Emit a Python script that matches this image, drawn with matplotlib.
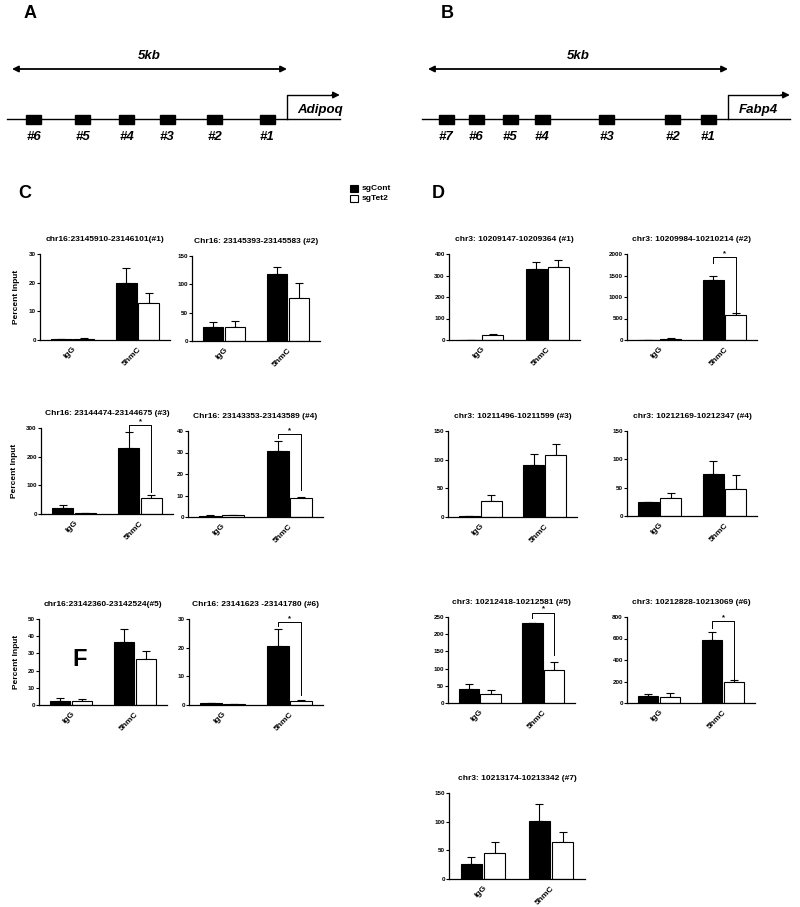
import numpy as np
import matplotlib.pyplot as plt
from matplotlib.patches import Rectangle

plt.rcParams["font.family"] = ["Liberation Sans", "DejaVu Sans"]
plt.rcParams["font.weight"] = "bold"

W, H = 800, 907  # 圖面像素

# ── 資料區 ────────────────────────────────────────────
groups = ["IgG", "5hmC"]

# A: Adipoq 位點 (距 TSS, kb)
adipoq_sites = [-0.36, -1.31, -2.18, -2.91, -3.71, -4.6]
# B: Fabp4 位點 (距 TSS, kb)
fabp4_sites = [-0.33, -0.92, -2.02, -3.1, -3.63, -4.2, -4.7]

# C: Adipoq ChIP (#1..#6)
c_titles = ["chr16:23145910-23146101(#1)", "Chr16: 23145393-23145583 (#2)",
            "Chr16: 23144474-23144675 (#3)", "Chr16: 23143353-23143589 (#4)",
            "chr16:23142360-23142524(#5)", "Chr16: 23141623 -23141780 (#6)"]
c_ymax = [30, 150, 300, 40, 50, 30]
c_ystep = [10, 50, 100, 10, 10, 10]
c_cont = [[0.3, 20], [25, 118], [22, 230], [0.6, 30.5], [2.3, 36.5], [0.6, 20.5]]
c_cont_err = [[0.1, 5], [8, 12], [8, 55], [0.1, 5], [1.5, 7.5], [0.1, 6]]
c_tet2 = [[0.5, 13], [25, 76], [4, 55], [0.7, 9], [2.2, 26.5], [0.4, 1.5]]
c_tet2_err = [[0.3, 3.5], [10, 27], [1, 10], [0.1, 0.3], [1.3, 5], [0.1, 0.4]]
c_sig = [None, None, (309, 290, 78), (38.4, 36.6, 12.5), None, (28.8, 27.7, 3.5)]

# D: Fabp4 ChIP (#1..#7)
d_titles = ["chr3: 10209147-10209364 (#1)", "chr3: 10209984-10210214 (#2)",
            "chr3: 10211496-10211599 (#3)", "chr3: 10212169-10212347 (#4)",
            "chr3: 10212418-10212581 (#5)", "chr3: 10212828-10213069 (#6)",
            "chr3: 10213174-10213342 (#7)"]
d_ymax = [400, 2000, 150, 150, 250, 800, 150]
d_ystep = [100, 500, 50, 50, 50, 200, 50]
d_cont = [[0, 330], [0, 1400], [2, 91], [25, 75], [42, 232], [65, 585], [27, 102]]
d_cont_err = [[0, 32], [0, 100], [0.5, 19], [0.5, 22], [13, 2], [15, 80], [11, 28]]
d_tet2 = [[24, 338], [30, 570], [28, 109], [32, 48], [27, 95], [60, 195], [46, 64]]
d_tet2_err = [[3, 34], [5, 60], [10, 19], [9, 24], [11, 25], [30, 15], [18, 18]]
d_sig = [None, (1920, 1800, 660), None, None, (263, 247, 140), (765, 700, 225), None]

# 各小圖的像素框 (left, top, right, bottom)
C_BOXES = [(40, 254, 170, 340), (192, 256, 320, 341),
           (41, 428, 173, 514), (188, 431, 323, 517),
           (39, 619, 167, 705), (189, 619, 323, 705)]
D_BOXES = [(449, 254, 580, 340), (627, 254, 757, 340),
           (448, 431, 577, 517), (627, 431, 757, 516),
           (448, 617, 575, 703), (627, 617, 755, 703),
           (449, 793, 585, 879)]


def px_axes(fig, left, top, right, bottom):
    return fig.add_axes([left / W, 1 - bottom / H, (right - left) / W, (bottom - top) / H])


def ftext(fig, x, y, s, **kw):
    fig.text(x / W, 1 - y / H, s, **kw)


def draw_locus(ax, sites, tss_px, px_per_kb, ax_left_px, gene, arrow_end):
    ax.set_xlim((ax_left_px - tss_px) / px_per_kb, (ax_left_px + 400 - tss_px) / px_per_kb)
    ax.set_ylim(150, 0)
    ax.axis("off")
    ax.annotate("", xy=(0, 69), xytext=(-5, 69),
                arrowprops=dict(arrowstyle="<|-|>", color="black", lw=1.3,
                                mutation_scale=9, shrinkA=0, shrinkB=0))
    ax.text(-2.5, 62, "5kb", ha="center", va="bottom", fontsize=9.5,
            style="italic", fontweight="bold")
    ax.plot([-5.1, arrow_end], [119, 119], color="black", lw=1)
    bw = 15 / px_per_kb
    for i, s in enumerate(sites):
        ax.add_patch(Rectangle((s - bw / 2, 115), bw, 9, color="black"))
        ax.text(s, 131, f"#{i + 1}", ha="center", va="top", fontsize=9.5,
                style="italic", fontweight="bold")
    ax.plot([0, 0, arrow_end - 0.1], [119, 95, 95], color="black", lw=1)
    ax.annotate("", xy=(arrow_end, 95), xytext=(arrow_end - 0.15, 95),
                arrowprops=dict(arrowstyle="-|>", color="black", lw=1,
                                mutation_scale=10, shrinkA=0, shrinkB=0))
    ax.text(0.18, 110, gene, ha="left", va="center", fontsize=9.5,
            style="italic", fontweight="bold")


def bar_panel(ax, title, ymax, step, cont, cont_err, tet, tet_err, sig, ylabel):
    x = np.arange(len(groups))
    w, off = 0.32, 0.17
    ax.bar(x - off, cont, w, color="black", edgecolor="black", lw=0.8, zorder=2)
    ax.bar(x + off, tet, w, color="white", edgecolor="black", lw=0.8, zorder=2)
    ax.errorbar(x - off, cont, yerr=[np.zeros(len(x)), cont_err], fmt="none",
                ecolor="black", elinewidth=0.8, capsize=3, capthick=0.8, zorder=1)
    ax.errorbar(x + off, tet, yerr=[np.zeros(len(x)), tet_err], fmt="none",
                ecolor="black", elinewidth=0.8, capsize=3, capthick=0.8, zorder=1)
    if sig is not None:
        top, lf, rf = sig
        ax.plot([1 - off, 1 - off, 1 + off, 1 + off], [lf, top, top, rf],
                color="black", lw=0.7, clip_on=False)
        ax.text(1, top, "*", ha="center", va="bottom", fontsize=5.5)
    ax.set_xlim(-0.5, 1.5)
    ax.set_ylim(0, ymax)
    ax.set_yticks(np.arange(0, ymax + 1, step))
    ax.set_xticks(x)
    ax.set_xticklabels(groups, rotation=45, ha="right", va="top",
                       rotation_mode="anchor", fontsize=6, fontweight="bold")
    ax.tick_params(axis="y", labelsize=4.5, length=2, width=0.8, pad=1)
    ax.tick_params(axis="x", length=0, pad=4)
    for lab in ax.get_yticklabels():
        lab.set_fontweight("bold")
    for sp in ("top", "right"):
        ax.spines[sp].set_visible(False)
    for sp in ("left", "bottom"):
        ax.spines[sp].set_linewidth(0.9)
    ax.set_title(title, fontsize=6, fontweight="bold", pad=9.5)
    if ylabel:
        ax.set_ylabel("Percent Input", fontsize=6, fontweight="bold", labelpad=6)


def main():
    fig = plt.figure(figsize=(W / 100, H / 100), dpi=100)

    axA = fig.add_axes([0, 1 - 150 / H, 0.5, 150 / H])
    draw_locus(axA, adipoq_sites, 287, 55, 0, "Adipoq", 0.96)
    axB = fig.add_axes([0.5, 1 - 150 / H, 0.5, 150 / H])
    draw_locus(axB, fabp4_sites, 728, 60, 400, "Fabp4", 1.03)

    for lbl, x, y in (("A", 24, 14), ("B", 441, 14), ("C", 18, 193), ("D", 432, 193)):
        ftext(fig, x, y, lbl, fontsize=13, fontweight="bold", ha="left", va="center")

    # 圖例
    fig.add_artist(Rectangle((350 / W, 1 - 192 / H), 8 / W, 7 / H, facecolor="black",
                             edgecolor="black", lw=0.8, transform=fig.transFigure))
    fig.add_artist(Rectangle((350 / W, 1 - 202 / H), 8 / W, 7 / H, facecolor="white",
                             edgecolor="black", lw=0.8, transform=fig.transFigure))
    ftext(fig, 362, 188, "sgCont", fontsize=6, fontweight="bold", va="center")
    ftext(fig, 362, 198, "sgTet2", fontsize=6, fontweight="bold", va="center")

    for i, box in enumerate(C_BOXES):
        ax = px_axes(fig, *box)
        bar_panel(ax, c_titles[i], c_ymax[i], c_ystep[i], c_cont[i], c_cont_err[i],
                  c_tet2[i], c_tet2_err[i], c_sig[i], ylabel=(i % 2 == 0))
    for i, box in enumerate(D_BOXES):
        ax = px_axes(fig, *box)
        bar_panel(ax, d_titles[i], d_ymax[i], d_ystep[i], d_cont[i], d_cont_err[i],
                  d_tet2[i], d_tet2_err[i], d_sig[i], ylabel=False)

    ftext(fig, 80, 660, "F", fontsize=17, fontweight="bold", ha="center", va="center")

    fig.savefig("out.png", dpi=100, facecolor="white")


if __name__ == "__main__":
    main()
